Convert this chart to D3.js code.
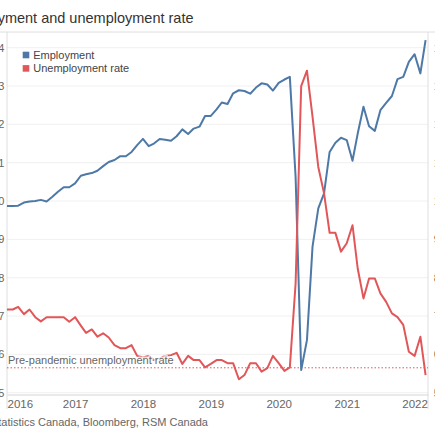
<!DOCTYPE html>
<html>
<head>
<meta charset="utf-8">
<script src="https://cdn.jsdelivr.net/npm/d3@7"></script>
<style>
  body { margin: 0; background: #fff; }
  svg { display: block; font-family: "Liberation Sans", Arial, sans-serif; }
</style>
</head>
<body>
<svg></svg>
<script>
// monthly data, Dec 2015 .. Feb 2022 (plotted at month end)
var months = d3.timeMonth.range(new Date(2015, 11, 1), new Date(2022, 2, 1));

// employment, millions (left axis)
var employment = [18.987, 18.987, 18.988, 18.996, 18.999, 19.000, 19.003, 18.999, 19.011, 19.024,
  19.036, 19.036, 19.046, 19.066, 19.070, 19.073, 19.079, 19.091, 19.102, 19.107,
  19.117, 19.117, 19.128, 19.146, 19.162, 19.143, 19.150, 19.162, 19.160, 19.157,
  19.169, 19.187, 19.175, 19.189, 19.194, 19.222, 19.222, 19.239, 19.257, 19.253,
  19.281, 19.289, 19.287, 19.280, 19.296, 19.307, 19.304, 19.288, 19.308, 19.317,
  19.324, 19.063, 18.559, 18.637, 18.881, 18.981, 19.020, 19.128, 19.152, 19.165,
  19.159, 19.105, 19.176, 19.246, 19.195, 19.183, 19.237, 19.256, 19.274, 19.318,
  19.324, 19.363, 19.383, 19.333, 19.420];

// unemployment rate, % (right axis)
var unemployment = [7.17, 7.17, 7.24, 7.05, 7.17, 6.97, 6.86, 6.97, 6.97, 6.97,
  6.97, 6.85, 6.97, 6.75, 6.56, 6.65, 6.46, 6.55, 6.44, 6.24,
  6.16, 6.16, 6.24, 5.96, 5.92, 5.96, 5.85, 5.89, 5.96, 5.98,
  6.04, 5.75, 5.96, 5.85, 5.85, 5.66, 5.75, 5.85, 5.85, 5.77,
  5.77, 5.35, 5.46, 5.77, 5.77, 5.55, 5.64, 5.96, 5.77, 5.57,
  5.66, 7.85, 13.0, 13.4, 12.2, 10.89, 10.2, 9.17, 9.17, 8.68,
  8.9, 9.37, 8.24, 7.46, 7.98, 7.98, 7.59, 7.37, 7.07, 6.97,
  6.77, 6.07, 5.96, 6.46, 5.46];

var prePandemicRate = 5.65;

var leftTicks = [18.5, 18.6, 18.7, 18.8, 18.9, 19.0, 19.1, 19.2, 19.3, 19.4];
var rightTicks = [5, 6, 7, 8, 9, 10, 11, 12, 13, 14];
var years = [2016, 2017, 2018, 2019, 2020, 2021, 2022];

var seriesNames = ["Employment", "Unemployment rate"];
var colors = ["#4e79a7", "#e15759"];

var width = 435, height = 435;
var plot = {left: 7, right: 428, top: 32, bottom: 394.5};

var svg = d3.select("svg")
  .attr("width", width)
  .attr("height", height);

var x = d3.scaleTime()
  .domain([new Date(2016, 0, 1), new Date(2022, 2, 14)])
  .range([plot.left, plot.right]);

var yL = d3.scaleLinear()
  .domain([18.5, 19.4])
  .range([392.7, 47.7]);

var yR = d3.scaleLinear()
  .domain([5, 14])
  .range([392.7, 47.7]);

// month end position
function xm(d){ return x(d3.timeMonth.offset(d, 1)); }

// title + rule under it
svg.append("text")
  .attr("x", 193.5)
  .attr("y", 22.5)
  .attr("text-anchor", "end")
  .attr("font-size", "14.5px")
  .attr("fill", "#333")
  .text("Employment and unemployment rate");

svg.append("line")
  .attr("x1", 0).attr("x2", width)
  .attr("y1", plot.top).attr("y2", plot.top)
  .attr("stroke", "#dedede");

// gridlines
svg.append("g")
  .selectAll("line")
  .data(leftTicks)
  .join("line")
  .attr("x1", plot.left).attr("x2", plot.right)
  .attr("y1", function(d){ return yL(d); })
  .attr("y2", function(d){ return yL(d); })
  .attr("stroke", "#f0f0f0");

// frame
svg.append("line")
  .attr("x1", plot.left).attr("x2", plot.left)
  .attr("y1", plot.top).attr("y2", 409)
  .attr("stroke", "#dedede");
svg.append("line")
  .attr("x1", plot.right).attr("x2", plot.right)
  .attr("y1", plot.top).attr("y2", 409)
  .attr("stroke", "#dedede");

// axes
var xAxis = d3.axisBottom(x)
  .tickValues(years.map(function(y){ return new Date(y, 0, 1); }))
  .tickFormat(d3.timeFormat("%Y"))
  .tickSize(0)
  .tickPadding(5);

var gx = svg.append("g")
  .attr("transform", "translate(0," + plot.bottom + ")")
  .call(xAxis);
gx.select(".domain").attr("stroke", "#d6d6d6");
gx.selectAll("text")
  .attr("font-size", "11.5px")
  .attr("fill", "#666")
  .attr("font-family", null);
gx.selectAll(".tick").filter(function(d, i){ return i === 0; })
  .select("text").attr("text-anchor", "start");

var gl = svg.append("g")
  .attr("transform", "translate(" + plot.left + ",0)")
  .call(d3.axisLeft(yL).tickValues(leftTicks).tickFormat(d3.format(".1f")).tickSize(0).tickPadding(2.5));
gl.select(".domain").remove();
gl.selectAll("text").attr("font-size", "11px").attr("fill", "#666").attr("font-family", null);

var gr = svg.append("g")
  .attr("transform", "translate(" + plot.right + ",0)")
  .call(d3.axisRight(yR).tickValues(rightTicks).tickFormat(d3.format("d")).tickSize(0).tickPadding(5.8));
gr.select(".domain").remove();
gr.selectAll("text").attr("font-size", "11px").attr("fill", "#666").attr("font-family", null);

// pre-pandemic reference
svg.append("line")
  .attr("x1", plot.left).attr("x2", plot.right)
  .attr("y1", yR(prePandemicRate)).attr("y2", yR(prePandemicRate))
  .attr("stroke", colors[1])
  .attr("stroke-width", 1)
  .attr("stroke-dasharray", "1.5,2");

// series
var lineL = d3.line()
  .x(function(d, i){ return xm(months[i]); })
  .y(function(d){ return yL(d); });
var lineR = d3.line()
  .x(function(d, i){ return xm(months[i]); })
  .y(function(d){ return yR(d); });

svg.append("path")
  .attr("d", lineL(employment))
  .attr("fill", "none")
  .attr("stroke", colors[0])
  .attr("stroke-width", 2)
  .attr("stroke-linejoin", "round");

svg.append("path")
  .attr("d", lineR(unemployment))
  .attr("fill", "none")
  .attr("stroke", colors[1])
  .attr("stroke-width", 2)
  .attr("stroke-linejoin", "round");

svg.append("text")
  .attr("x", plot.left + 1)
  .attr("y", yR(prePandemicRate) - 4)
  .attr("font-size", "11px")
  .attr("fill", "#666")
  .attr("stroke", "#fff")
  .attr("stroke-opacity", 0.75)
  .attr("stroke-width", 3)
  .attr("paint-order", "stroke")
  .text("Pre-pandemic unemployment rate");

// legend
var legend = svg.append("g")
  .selectAll("g")
  .data(seriesNames)
  .join("g")
  .attr("transform", function(d, i){ return "translate(22.7," + (51.7 + i * 13.4) + ")"; });
legend.append("rect")
  .attr("width", 6.6).attr("height", 6.6)
  .attr("fill", function(d, i){ return colors[i]; });
legend.append("text")
  .attr("x", 10.5).attr("y", 6.8)
  .attr("font-size", "11px")
  .attr("fill", "#444")
  .text(function(d){ return d; });

// source
svg.append("text")
  .attr("x", 208)
  .attr("y", 426)
  .attr("text-anchor", "end")
  .attr("font-size", "11px")
  .attr("fill", "#666")
  .text("Source: Statistics Canada, Bloomberg, RSM Canada");
</script>
</body>
</html>
